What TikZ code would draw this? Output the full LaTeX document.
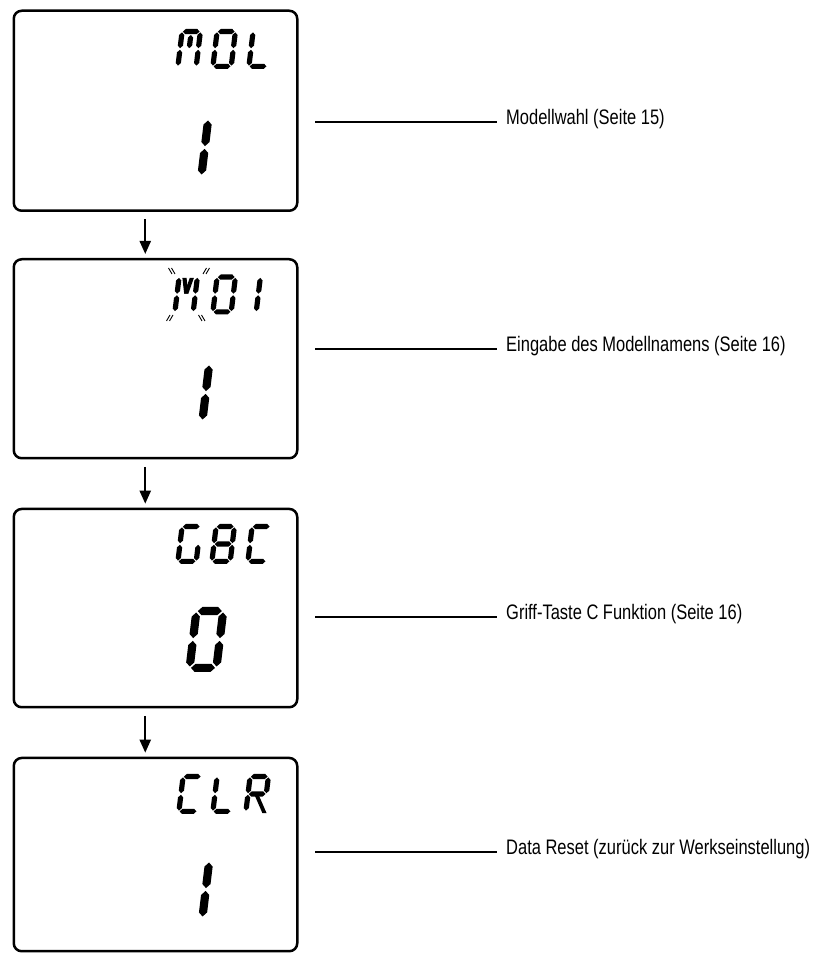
\documentclass[tikz,border=0pt]{standalone}
\usepackage{fontspec}
\usetikzlibrary{arrows.meta}
\newfontfamily\lblfont[FakeStretch=0.785]{Liberation Sans}
\newcommand\lcdsl{0.12}
\newcommand\seghor[3]{\fill (#1,#3) -- (#1+\lst,#3+\lst) -- (#2-\lst,#3+\lst) -- (#2,#3) -- (#2-\lst,#3-\lst) -- (#1+\lst,#3-\lst) -- cycle;}
\newcommand\segver[3]{\fill (#1,#2) -- (#1+\lst,#2+\lst) -- (#1+\lst,#3-\lst) -- (#1,#3) -- (#1-\lst,#3-\lst) -- (#1-\lst,#2+\lst) -- cycle;}
\newcommand\lcdsega{\seghor{\lst+\lgp}{\lW-\lst-\lgp}{\lH-\lst}}
\newcommand\lcdsegd{\seghor{\lst+\lgp}{\lW-\lst-\lgp}{\lst}}
\newcommand\lcdsegg{\seghor{\lst+\lgp}{\lW-\lst-\lgp}{\lH/2}}
\newcommand\lcdsegb{\segver{\lW-\lst}{\lH/2+\lgp}{\lH-\lst-\lgp}}
\newcommand\lcdsegc{\segver{\lW-\lst}{\lst+\lgp}{\lH/2-\lgp}}
\newcommand\lcdsege{\segver{\lst}{\lst+\lgp}{\lH/2-\lgp}}
\newcommand\lcdsegf{\segver{\lst}{\lH/2+\lgp}{\lH-\lst-\lgp}}
\newcommand\lcdsegm{\segver{\lW/2}{\lH/2+\lgp}{\lH-2*\lst-\lgp}}
\newcommand\lcdsegp{\fill (2*\lst+\lgp,\lH-\lst-\lgp) -- (2*\lst+\lgp+1.6*\lst,\lH-\lst-\lgp) -- (\lW/2+0.8*\lst,\lH/2+\lgp) -- (\lW/2-0.8*\lst,\lH/2+\lgp) -- cycle;}
\newcommand\lcdsegq{\fill (\lW-2*\lst-\lgp,\lH-\lst-\lgp) -- (\lW-2*\lst-\lgp-1.6*\lst,\lH-\lst-\lgp) -- (\lW/2-0.8*\lst,\lH/2+\lgp) -- (\lW/2+0.8*\lst,\lH/2+\lgp) -- cycle;}
\newcommand\lcdsegr{\fill (\lW/2-\lst,\lH/2-\lgp) -- (\lW/2+0.6*\lst,\lH/2-\lgp) -- (\lW,\lgp) -- (\lW-1.6*\lst,\lgp) -- cycle;}
\newcommand\lcdchar[7]{%
  \begin{scope}[shift={(#1,#2)}, xslant=\lcdsl]
    \def\lW{#3}\def\lH{#4}\def\lst{#5}\def\lgp{#6}%
    \foreach \sg in {#7}{\csname lcdseg\sg\endcsname}
  \end{scope}}
\newcommand\smallch[3]{\lcdchar{#1}{#2}{23.5}{40}{2.6}{0.8}{#3}}
\newcommand\bigch[3]{\lcdchar{#1}{#2}{35}{65}{4.1}{1.4}{#3}}
\begin{document}
\begin{tikzpicture}[x=1pt,y=1pt,
  lcdbox/.style={draw, line width=2.5pt, rounded corners=8pt, minimum width=283.5pt, inner sep=0pt, anchor=north west},
  flow/.style={line width=2.2pt, -{Triangle[width=11pt,length=13pt]}},
  lead/.style={line width=2.3pt},
  lbl/.style={anchor=mid west, inner sep=0pt, font=\lblfont\fontsize{21}{25}\selectfont}]
\useasboundingbox (0,0) rectangle (812,953);
% boxes
\node[lcdbox, minimum height=200pt] (b1) at (12.5,943.5) {};
\node[lcdbox, minimum height=199pt] (b2) at (12.5,695) {};
\node[lcdbox, minimum height=198.3pt] (b3) at (12.5,445.3) {};
\node[lcdbox, minimum height=193.3pt] (b4) at (12.5,196.3) {};
% arrows
\draw[flow] ([xshift=-10.25pt,yshift=-7.5pt]b1.south) -- ([xshift=-10.25pt,yshift=4pt]b2.north);
\draw[flow] ([xshift=-10.25pt,yshift=-7.5pt]b2.south) -- ([xshift=-10.25pt,yshift=4pt]b3.north);
\draw[flow] ([xshift=-10.25pt,yshift=-7.5pt]b3.south) -- ([xshift=-10.25pt,yshift=4pt]b4.north);
% display 1
\smallch{175}{884}{a,b,c,e,f,m}
\smallch{210}{884}{a,b,c,d,e,f}
\smallch{246}{884}{d,e,f}
\bigch{170}{773}{b,c}
% display 2
\smallch{172}{638.5}{b,c,e,f,p,q}
\smallch{210}{638.5}{a,b,c,d,e,f}
\smallch{235}{638.5}{b,c}
\bigch{171}{528}{b,c}
\begin{scope}[line width=0.9pt]
\draw (168.5,685) -- ++(3.5,-6); \draw (171.5,685) -- ++(3.5,-6);
\draw (203,679) -- ++(3.5,6); \draw (206,679) -- ++(3.5,6);
\draw (166.5,632) -- ++(3.5,6); \draw (169.5,632) -- ++(3.5,6);
\draw (198.5,638) -- ++(3.5,-6); \draw (201.5,638) -- ++(3.5,-6);
\end{scope}
% display 3
\smallch{175}{389}{a,c,d,e,f}
\smallch{209}{389}{a,b,c,d,e,f,g}
\smallch{245}{389}{a,d,e,f}
\bigch{185}{281}{a,b,c,d,e,f}
% display 4
\smallch{176}{139}{a,d,e,f}
\smallch{210}{139}{d,e,f}
\smallch{243}{139}{a,b,e,f,g,r}
\bigch{171}{31}{b,c}
% labels
\node[lbl] (t1) at (506,831) {Modellwahl (Seite 15)};
\node[lbl] (t2) at (506,604) {Eingabe des Modellnamens (Seite 16)};
\node[lbl] (t3) at (506,336) {Griff-Taste C Funktion (Seite 16)};
\node[lbl] (t4) at (506,101) {Data Reset (zurück zur Werkseinstellung)};
\coordinate (l1) at (315,831);
\coordinate (l2) at (315,604);
\coordinate (l3) at (315,336);
\coordinate (l4) at (315,101);
\draw[lead] (l1) -- ([xshift=-9pt]t1.mid west);
\draw[lead] (l2) -- ([xshift=-9pt]t2.mid west);
\draw[lead] (l3) -- ([xshift=-9pt]t3.mid west);
\draw[lead] (l4) -- ([xshift=-9pt]t4.mid west);
\end{tikzpicture}
\end{document}
